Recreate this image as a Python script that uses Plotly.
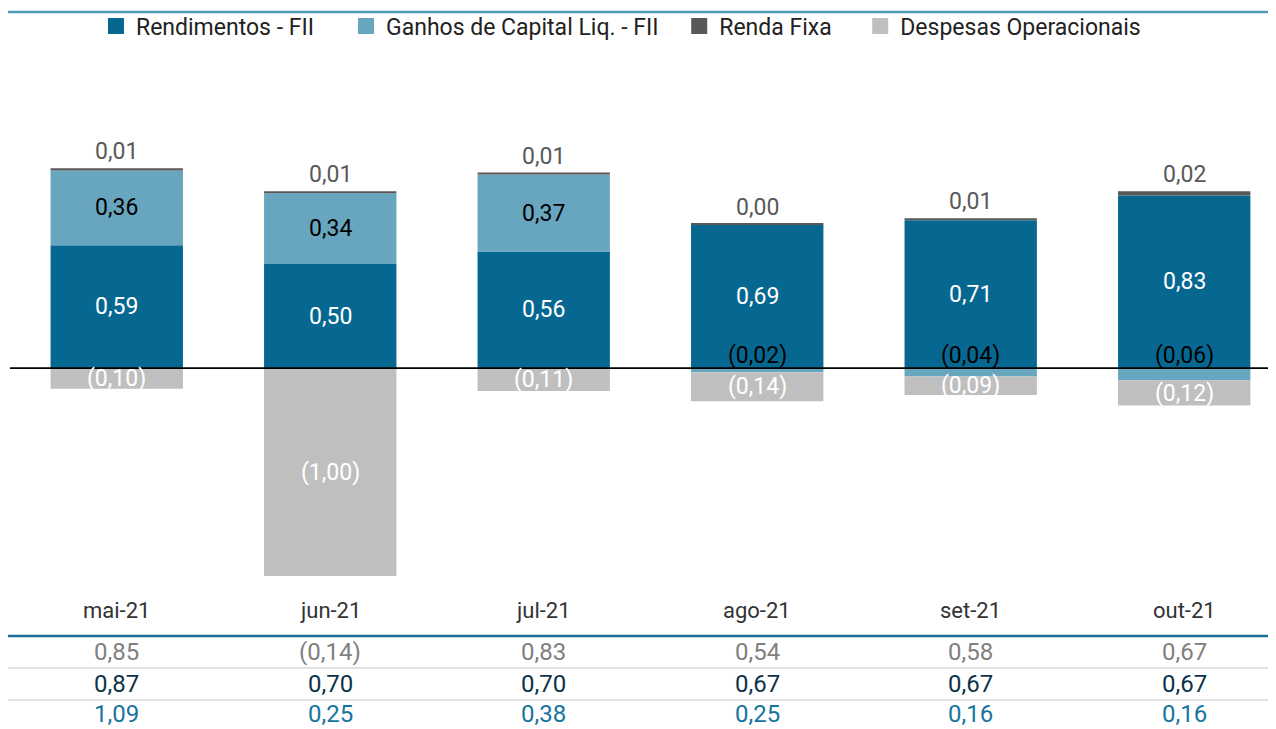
import plotly.graph_objects as go

categories = ["mai-21", "jun-21", "jul-21", "ago-21", "set-21", "out-21"]
rendimentos = [0.59, 0.50, 0.56, 0.69, 0.71, 0.83]
ganhos = [0.36, 0.34, 0.37, -0.02, -0.04, -0.06]
renda_fixa = [0.01, 0.01, 0.01, 0.004, 0.01, 0.02]
renda_fixa_lbl = [0.01, 0.01, 0.01, 0.00, 0.01, 0.02]
despesas = [-0.10, -1.00, -0.11, -0.14, -0.09, -0.12]
row1 = [0.85, -0.14, 0.83, 0.54, 0.58, 0.67]
row2 = [0.87, 0.70, 0.70, 0.67, 0.67, 0.67]
row3 = [1.09, 0.25, 0.38, 0.25, 0.16, 0.16]
series_names = ["Rendimentos - FII", "Ganhos de Capital Liq. - FII", "Renda Fixa", "Despesas Operacionais"]

C_REND = "#066891"
C_GAN = "#68a6c0"
C_RF = "#595959"
C_DESP = "#bfbfbf"
FONT = "Roboto"


def fmt(v):
    s = f"{abs(v):.2f}".replace(".", ",")
    return f"({s})" if v < 0 else s


colors = [C_REND, C_GAN, C_RF, C_DESP]
legend_ids = ["legend", "legend2", "legend3", "legend4"]
legend_x = [0.0679, 0.2654, 0.5286, 0.6716]

fig = go.Figure()
for name, vals, col in zip(series_names, [rendimentos, ganhos, renda_fixa, despesas], colors):
    fig.add_trace(go.Bar(x=categories, y=vals, name=name, marker=dict(color=col, line=dict(width=0)),
                         width=0.62, hoverinfo="skip", showlegend=False))
for name, col, lid in zip(series_names, colors, legend_ids):
    fig.add_trace(go.Scatter(x=[categories[0]], y=[None], mode="markers", name=name,
                             marker=dict(symbol="square", size=17, color=col), legend=lid, showlegend=True))

ann = []
LBL = 23
for i, c in enumerate(categories):
    r, g, f, d = rendimentos[i], ganhos[i], renda_fixa[i], despesas[i]
    ann.append(dict(x=c, y=r / 2, text=fmt(r), font=dict(color="white", size=LBL, family=FONT), showarrow=False))
    if g >= 0:
        ann.append(dict(x=c, y=r + g / 2, text=fmt(g), font=dict(color="black", size=LBL, family=FONT),
                        showarrow=False))
        top = r + g + f
        dtop = 0
    else:
        ann.append(dict(x=c, y=0, yanchor="bottom", yshift=-3, text=fmt(g),
                        font=dict(color="black", size=LBL, family=FONT), showarrow=False))
        top = r + f
        dtop = g
    ann.append(dict(x=c, y=top, yanchor="bottom", yshift=1, text=fmt(renda_fixa_lbl[i]),
                    font=dict(color="#595959", size=LBL, family=FONT), showarrow=False))
    ann.append(dict(x=c, y=dtop + d / 2, text=fmt(d), font=dict(color="white", size=LBL, family=FONT),
                    showarrow=False))
    ann.append(dict(x=c, y=-0.0396, yref="paper", yanchor="middle", text=c,
                    font=dict(color="#333333", size=22, family=FONT), showarrow=False))
    for vals, yy, col in [(row1, -0.117, "#808080"), (row2, -0.177, "#0d3349"), (row3, -0.2345, "#17749e")]:
        ann.append(dict(x=c, y=yy, yref="paper", yanchor="middle", text=fmt(vals[i]),
                        font=dict(color=col, size=24, family=FONT), showarrow=False))

shapes = [
    dict(type="line", xref="paper", yref="y", x0=0, x1=1, y0=0, y1=0, line=dict(color="black", width=1.8),
         layer="above"),
    dict(type="line", xref="paper", yref="paper", x0=-0.003, x1=1, y0=-0.0868, y1=-0.0868,
         line=dict(color="#1a6e96", width=2.5)),
    dict(type="line", xref="paper", yref="paper", x0=-0.003, x1=1, y0=-0.147, y1=-0.147,
         line=dict(color="#d9d9d9", width=1.5)),
    dict(type="line", xref="paper", yref="paper", x0=-0.003, x1=1, y0=-0.2075, y1=-0.2075,
         line=dict(color="#d9d9d9", width=1.5)),
    dict(type="line", xref="paper", yref="paper", x0=-0.003, x1=1, y0=1.0906, y1=1.0906,
         line=dict(color="#4f9ab8", width=2.5)),
]

legends = {}
for lid, lx in zip(legend_ids, legend_x):
    legends[lid] = dict(x=lx, xanchor="left", y=1.064, yanchor="middle", orientation="h",
                        font=dict(size=23, family=FONT, color="#222222"), bgcolor="rgba(0,0,0,0)",
                        itemsizing="trace", itemwidth=30)

fig.update_layout(
    width=1268, height=721,
    margin=dict(l=2, r=0, t=52, b=139, autoexpand=False),
    barmode="relative",
    plot_bgcolor="white", paper_bgcolor="white",
    font=dict(family=FONT, color="#333333"),
    xaxis=dict(range=[-0.5, 5.43], showticklabels=False, showgrid=False, zeroline=False, showline=False,
               fixedrange=True),
    yaxis=dict(range=[-1.067, 1.481], visible=False, showgrid=False, zeroline=False, fixedrange=True),
    showlegend=True,
    annotations=ann,
    shapes=shapes,
    **legends,
)

fig.write_html("out.html", config={"displayModeBar": False})
